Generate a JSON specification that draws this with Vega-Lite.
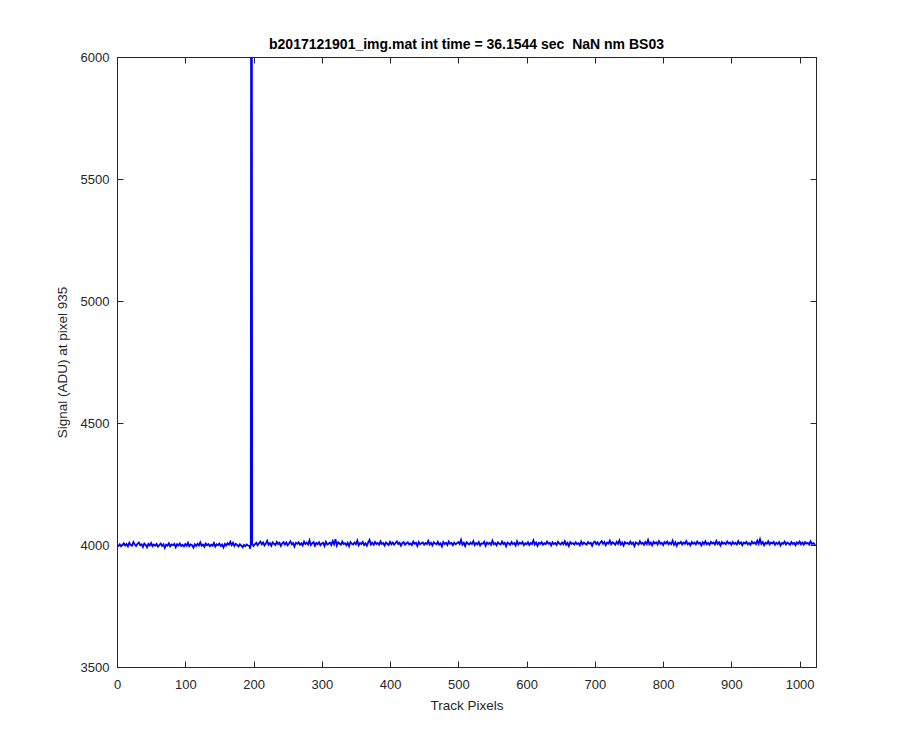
{
"$schema": "https://vega.github.io/schema/vega-lite/v6.json",
"width": 699, "height": 610,
"autosize": {"type": "none"},
"padding": {"left": 117, "top": 57, "right": 84, "bottom": 83},
"background": "white",
"config": {"view": {"stroke": "#262626", "strokeWidth": 1}, "font": "Liberation Sans",
  "axis": {"grid": false, "domainColor": "#262626", "tickColor": "#262626", "labelColor": "#262626", "titleColor": "#262626", "labelFont": "Liberation Sans", "titleFont": "Liberation Sans", "labelFontSize": 13, "titleFontSize": 13.5, "titleFontWeight": "normal", "tickSize": -6, "domainWidth": 1, "tickWidth": 1, "labelFlush": false}},
"title": {"text": "b2017121901_img.mat int time = 36.1544 sec\u00a0 NaN nm BS03", "fontSize": 14, "fontWeight": "bold", "color": "black", "anchor": "middle", "offset": -1, "font": "Liberation Sans"},
"data": {"values": [
{"x":0,"y":3993},{"x":2,"y":3996},{"x":4,"y":4003},{"x":6,"y":3995},{"x":8,"y":4001},{"x":10,"y":4007},{"x":12,"y":3998},{"x":14,"y":4004},{"x":16,"y":3994},{"x":18,"y":4009},{"x":20,"y":4000},{"x":22,"y":3997},{"x":24,"y":4012},{"x":26,"y":4002},{"x":28,"y":3996},{"x":30,"y":4005},{"x":32,"y":4010},{"x":34,"y":3999},{"x":36,"y":4003},{"x":38,"y":3992},{"x":40,"y":4006},{"x":42,"y":4001},{"x":44,"y":3990},{"x":46,"y":4004},{"x":48,"y":3998},{"x":50,"y":4008},{"x":52,"y":3995},{"x":54,"y":4002},{"x":56,"y":3997},{"x":58,"y":4004},{"x":60,"y":3993},{"x":62,"y":4000},{"x":64,"y":4006},{"x":66,"y":3996},{"x":68,"y":4003},{"x":70,"y":3988},{"x":72,"y":4001},{"x":74,"y":3997},{"x":76,"y":4007},{"x":78,"y":3994},{"x":80,"y":4002},{"x":82,"y":3999},{"x":84,"y":4005},{"x":86,"y":3991},{"x":88,"y":4003},{"x":90,"y":3998},{"x":92,"y":4006},{"x":94,"y":3996},{"x":96,"y":4001},{"x":98,"y":3994},{"x":100,"y":4004},{"x":102,"y":3997},{"x":104,"y":4009},{"x":106,"y":3995},{"x":108,"y":4002},{"x":110,"y":3999},{"x":112,"y":3989},{"x":114,"y":4003},{"x":116,"y":3996},{"x":118,"y":4005},{"x":120,"y":3998},{"x":122,"y":4011},{"x":124,"y":3997},{"x":126,"y":4002},{"x":128,"y":3993},{"x":130,"y":4006},{"x":132,"y":3999},{"x":134,"y":4004},{"x":136,"y":3995},{"x":138,"y":4001},{"x":140,"y":3997},{"x":142,"y":4008},{"x":144,"y":3994},{"x":146,"y":4003},{"x":148,"y":3999},{"x":150,"y":4006},{"x":152,"y":3996},{"x":154,"y":4002},{"x":156,"y":3990},{"x":158,"y":4004},{"x":160,"y":3998},{"x":162,"y":4007},{"x":164,"y":4001},{"x":166,"y":4013},{"x":168,"y":3999},{"x":170,"y":4009},{"x":172,"y":3996},{"x":174,"y":4005},{"x":176,"y":4000},{"x":178,"y":3994},{"x":180,"y":4003},{"x":182,"y":3997},{"x":184,"y":3991},{"x":186,"y":4000},{"x":188,"y":3995},{"x":190,"y":4002},{"x":192,"y":3998},{"x":194,"y":3996},{"x":195,"y":3985},{"x":196,"y":4001},{"x":197,"y":9000},{"x":198,"y":4004},
{"x":200,"y":3996},{"x":202,"y":4003},{"x":204,"y":4009},{"x":206,"y":3999},{"x":208,"y":4007},{"x":210,"y":4014},{"x":212,"y":4003},{"x":214,"y":4010},{"x":216,"y":3998},{"x":218,"y":4006},{"x":220,"y":4017},{"x":222,"y":4001},{"x":224,"y":4008},{"x":226,"y":3997},{"x":228,"y":4011},{"x":230,"y":4005},{"x":232,"y":4000},{"x":234,"y":4013},{"x":236,"y":4004},{"x":238,"y":4009},{"x":240,"y":3996},{"x":242,"y":4007},{"x":244,"y":4012},{"x":246,"y":4002},{"x":248,"y":4010},{"x":250,"y":3999},{"x":252,"y":4006},{"x":254,"y":4015},{"x":256,"y":4003},{"x":258,"y":4008},{"x":260,"y":3994},{"x":262,"y":4009},{"x":264,"y":4005},{"x":266,"y":4011},{"x":268,"y":4001},{"x":270,"y":4007},{"x":272,"y":3998},{"x":274,"y":4014},{"x":276,"y":4004},{"x":278,"y":4010},{"x":280,"y":4002},{"x":282,"y":4019},{"x":284,"y":4000},{"x":286,"y":4007},{"x":288,"y":4012},{"x":290,"y":3997},{"x":292,"y":4008},{"x":294,"y":4003},{"x":296,"y":4011},{"x":298,"y":3999},{"x":300,"y":4006},{"x":302,"y":4009},{"x":304,"y":3996},{"x":306,"y":4013},{"x":308,"y":4002},{"x":310,"y":4005},{"x":312,"y":4010},{"x":314,"y":4000},{"x":316,"y":4016},{"x":318,"y":4003},{"x":320,"y":4024},{"x":322,"y":3998},{"x":324,"y":4011},{"x":326,"y":4006},{"x":328,"y":4001},{"x":330,"y":4014},{"x":332,"y":4004},{"x":334,"y":4007},{"x":336,"y":3999},{"x":338,"y":4009},{"x":340,"y":3995},{"x":342,"y":4012},{"x":344,"y":4005},{"x":346,"y":4002},{"x":348,"y":4010},{"x":350,"y":4003},{"x":352,"y":4018},{"x":354,"y":3999},{"x":356,"y":4008},{"x":358,"y":4004},{"x":360,"y":4013},{"x":362,"y":4000},{"x":364,"y":4007},{"x":366,"y":3997},{"x":368,"y":4011},{"x":370,"y":4021},{"x":372,"y":4002},{"x":374,"y":4009},{"x":376,"y":4001},{"x":378,"y":4012},{"x":380,"y":4004},{"x":382,"y":4008},{"x":384,"y":4001},{"x":386,"y":4015},{"x":388,"y":4004},{"x":390,"y":4008},{"x":392,"y":3998},{"x":394,"y":4010},{"x":396,"y":4005},{"x":398,"y":4000},
{"x":400,"y":4013},{"x":402,"y":4003},{"x":404,"y":4010},{"x":406,"y":4001},{"x":408,"y":4008},{"x":410,"y":4015},{"x":412,"y":4004},{"x":414,"y":4009},{"x":416,"y":3997},{"x":418,"y":4008},{"x":420,"y":4012},{"x":422,"y":4001},{"x":424,"y":4007},{"x":426,"y":4011},{"x":428,"y":4002},{"x":430,"y":4006},{"x":432,"y":4000},{"x":434,"y":4014},{"x":436,"y":4005},{"x":438,"y":4009},{"x":440,"y":3996},{"x":442,"y":4012},{"x":444,"y":4003},{"x":446,"y":4007},{"x":448,"y":4010},{"x":450,"y":4001},{"x":452,"y":4008},{"x":454,"y":4004},{"x":456,"y":4017},{"x":458,"y":4002},{"x":460,"y":4009},{"x":462,"y":3998},{"x":464,"y":4011},{"x":466,"y":4006},{"x":468,"y":4003},{"x":470,"y":4013},{"x":472,"y":4001},{"x":474,"y":4007},{"x":476,"y":3994},{"x":478,"y":4012},{"x":480,"y":4004},{"x":482,"y":4009},{"x":484,"y":4000},{"x":486,"y":4014},{"x":488,"y":4005},{"x":490,"y":4008},{"x":492,"y":3999},{"x":494,"y":4010},{"x":496,"y":4003},{"x":498,"y":4007},{"x":500,"y":4012},{"x":502,"y":4004},{"x":504,"y":4021},{"x":506,"y":4001},{"x":508,"y":4009},{"x":510,"y":3996},{"x":512,"y":4011},{"x":514,"y":4006},{"x":516,"y":4002},{"x":518,"y":4010},{"x":520,"y":4004},{"x":522,"y":4016},{"x":524,"y":4000},{"x":526,"y":4008},{"x":528,"y":4003},{"x":530,"y":4012},{"x":532,"y":3998},{"x":534,"y":4007},{"x":536,"y":4005},{"x":538,"y":4013},{"x":540,"y":3997},{"x":542,"y":4010},{"x":544,"y":4004},{"x":546,"y":4009},{"x":548,"y":4001},{"x":550,"y":4018},{"x":552,"y":4003},{"x":554,"y":4008},{"x":556,"y":3999},{"x":558,"y":4011},{"x":560,"y":4005},{"x":562,"y":4002},{"x":564,"y":4014},{"x":566,"y":4004},{"x":568,"y":4009},{"x":570,"y":3995},{"x":572,"y":4010},{"x":574,"y":4006},{"x":576,"y":4001},{"x":578,"y":4012},{"x":580,"y":4004},{"x":582,"y":4008},{"x":584,"y":3998},{"x":586,"y":4015},{"x":588,"y":4002},{"x":590,"y":4009},{"x":592,"y":4005},{"x":594,"y":4012},{"x":596,"y":3999},{"x":598,"y":4007},{"x":600,"y":4003},{"x":602,"y":4011},{"x":604,"y":4000},{"x":606,"y":4008},{"x":608,"y":4004},{"x":610,"y":4019},{"x":612,"y":4002},{"x":614,"y":4010},{"x":616,"y":3997},{"x":618,"y":4009},{"x":620,"y":4005},{"x":622,"y":4012},{"x":624,"y":4001},{"x":626,"y":4007},{"x":628,"y":4003},{"x":630,"y":4014},{"x":632,"y":4005},{"x":634,"y":4009},{"x":636,"y":3998},{"x":638,"y":4011},{"x":640,"y":4004},{"x":642,"y":4008},{"x":644,"y":4000},{"x":646,"y":4013},{"x":648,"y":4006},{"x":650,"y":4002},{"x":652,"y":4010},{"x":654,"y":4003},{"x":656,"y":4016},{"x":658,"y":4001},{"x":660,"y":4009},{"x":662,"y":3996},{"x":664,"y":4012},{"x":666,"y":4005},{"x":668,"y":4008},{"x":670,"y":4002},{"x":672,"y":4011},{"x":674,"y":4004},{"x":676,"y":4007},{"x":678,"y":3999},{"x":680,"y":4014},{"x":682,"y":4003},{"x":684,"y":4010},{"x":686,"y":4005},{"x":688,"y":4001},{"x":690,"y":4012},{"x":692,"y":4006},{"x":694,"y":4009},{"x":696,"y":3997},{"x":698,"y":4010},
{"x":700,"y":4014},{"x":702,"y":4004},{"x":704,"y":4011},{"x":706,"y":4001},{"x":708,"y":4009},{"x":710,"y":4016},{"x":712,"y":4005},{"x":714,"y":4012},{"x":716,"y":3999},{"x":718,"y":4010},{"x":720,"y":4006},{"x":722,"y":4018},{"x":724,"y":4003},{"x":726,"y":4011},{"x":728,"y":4007},{"x":730,"y":4001},{"x":732,"y":4013},{"x":734,"y":4005},{"x":736,"y":4019},{"x":738,"y":4002},{"x":740,"y":4010},{"x":742,"y":3998},{"x":744,"y":4012},{"x":746,"y":4006},{"x":748,"y":4009},{"x":750,"y":4003},{"x":752,"y":4014},{"x":754,"y":4004},{"x":756,"y":4010},{"x":758,"y":3996},{"x":760,"y":4011},{"x":762,"y":4007},{"x":764,"y":4002},{"x":766,"y":4015},{"x":768,"y":4005},{"x":770,"y":4009},{"x":772,"y":4001},{"x":774,"y":4012},{"x":776,"y":4004},{"x":778,"y":4021},{"x":780,"y":4003},{"x":782,"y":4010},{"x":784,"y":3999},{"x":786,"y":4013},{"x":788,"y":4006},{"x":790,"y":4011},{"x":792,"y":4002},{"x":794,"y":4016},{"x":796,"y":4005},{"x":798,"y":4009},{"x":800,"y":4000},{"x":802,"y":4012},{"x":804,"y":4006},{"x":806,"y":4014},{"x":808,"y":4003},{"x":810,"y":4010},{"x":812,"y":4004},{"x":814,"y":4018},{"x":816,"y":4001},{"x":818,"y":4011},{"x":820,"y":3997},{"x":822,"y":4009},{"x":824,"y":4006},{"x":826,"y":4013},{"x":828,"y":4002},{"x":830,"y":4010},{"x":832,"y":4005},{"x":834,"y":4016},{"x":836,"y":4003},{"x":838,"y":4008},{"x":840,"y":3999},{"x":842,"y":4012},{"x":844,"y":4005},{"x":846,"y":4010},{"x":848,"y":4002},{"x":850,"y":4014},{"x":852,"y":4006},{"x":854,"y":4009},{"x":856,"y":3998},{"x":858,"y":4011},{"x":860,"y":4004},{"x":862,"y":4015},{"x":864,"y":4003},{"x":866,"y":4009},{"x":868,"y":4001},{"x":870,"y":4013},{"x":872,"y":4006},{"x":874,"y":4010},{"x":876,"y":4002},{"x":878,"y":4017},{"x":880,"y":4004},{"x":882,"y":4011},{"x":884,"y":3998},{"x":886,"y":4012},{"x":888,"y":4005},{"x":890,"y":4009},{"x":892,"y":4003},{"x":894,"y":4014},{"x":896,"y":4006},{"x":898,"y":4010},{"x":900,"y":4001},{"x":902,"y":4012},{"x":904,"y":4004},{"x":906,"y":4009},{"x":908,"y":4002},{"x":910,"y":4016},{"x":912,"y":4005},{"x":914,"y":4011},{"x":916,"y":3999},{"x":918,"y":4010},{"x":920,"y":4006},{"x":922,"y":4013},{"x":924,"y":4003},{"x":926,"y":4008},{"x":928,"y":4001},{"x":930,"y":4014},{"x":932,"y":4006},{"x":934,"y":4010},{"x":936,"y":4003},{"x":938,"y":4018},{"x":940,"y":4005},{"x":942,"y":4024},{"x":944,"y":4004},{"x":946,"y":4012},{"x":948,"y":3999},{"x":950,"y":4009},{"x":952,"y":4005},{"x":954,"y":4015},{"x":956,"y":4002},{"x":958,"y":4010},{"x":960,"y":4006},{"x":962,"y":4013},{"x":964,"y":4001},{"x":966,"y":4009},{"x":968,"y":4004},{"x":970,"y":4012},{"x":972,"y":3998},{"x":974,"y":4008},{"x":976,"y":4005},{"x":978,"y":4014},{"x":980,"y":4002},{"x":982,"y":4010},{"x":984,"y":4006},{"x":986,"y":4001},{"x":988,"y":4012},{"x":990,"y":4004},{"x":992,"y":4009},{"x":994,"y":3999},{"x":996,"y":4011},{"x":998,"y":4005},{"x":1000,"y":4014},{"x":1002,"y":4003},{"x":1004,"y":4010},{"x":1006,"y":4001},{"x":1008,"y":4012},{"x":1010,"y":4006},{"x":1012,"y":4009},{"x":1014,"y":4002},{"x":1016,"y":4015},{"x":1018,"y":4004},{"x":1020,"y":4008},{"x":1022,"y":4003},{"x":1023,"y":4005}
]},
"layer": [
 {"mark": {"type": "line", "color": "#0000ff", "strokeWidth": 1.8, "clip": true},
  "encoding": {
   "x": {"field": "x", "type": "quantitative", "scale": {"domain": [0, 1024], "nice": false, "zero": false},
         "axis": {"orient": "bottom", "values": [0,100,200,300,400,500,600,700,800,900,1000], "title": "Track Pixels", "labelPadding": 17, "titlePadding": 7, "format": "d"}},
   "y": {"field": "y", "type": "quantitative", "scale": {"domain": [3500, 6000], "nice": false, "zero": false},
         "axis": {"orient": "left", "values": [3500,4000,4500,5000,5500,6000], "title": "Signal (ADU) at pixel 935", "labelPadding": 14, "titlePadding": 11, "format": "d"}}
  }},
 {"mark": {"type": "line", "opacity": 0, "clip": true},
  "encoding": {
   "x": {"field": "x", "type": "quantitative", "axis": {"orient": "top", "values": [0,100,200,300,400,500,600,700,800,900,1000], "labels": false, "title": null}},
   "y": {"field": "y", "type": "quantitative", "axis": {"orient": "right", "values": [3500,4000,4500,5000,5500,6000], "labels": false, "title": null}}
  }}
],
"resolve": {"axis": {"x": "independent", "y": "independent"}}
}
